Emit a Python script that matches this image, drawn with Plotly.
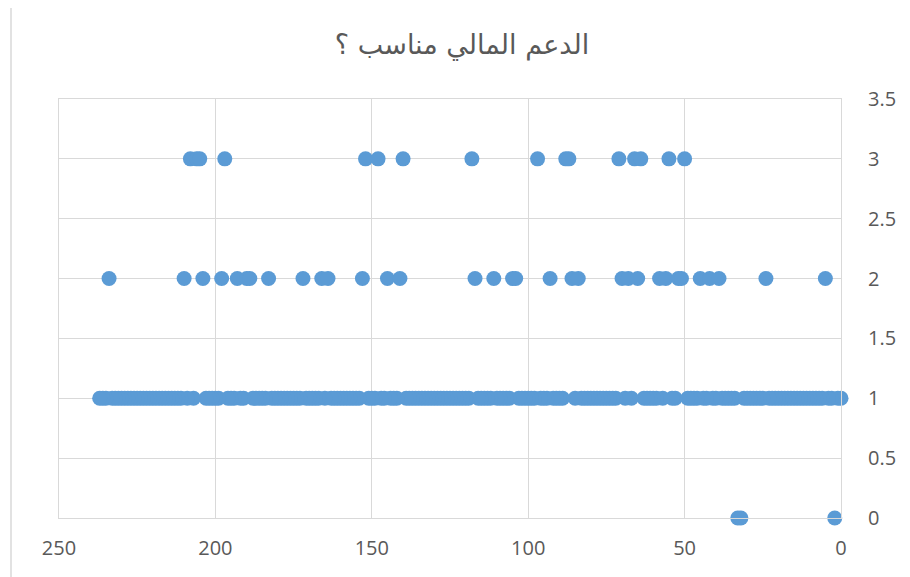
import plotly.graph_objects as go

title_text = "الدعم المالي مناسب ؟"

# x positions (respondent index), by answer level
x_level3 = [208, 206, 205, 197, 152, 148, 140, 118, 97, 88, 87, 71, 66, 64, 55, 50]
x_level2 = [234, 210, 204, 198, 193, 190, 189, 183, 172, 166, 164, 153, 145, 141,
            117, 111, 105, 104, 93, 86, 84, 70, 68, 65, 58, 56, 52, 51, 45, 42, 39, 24, 5]
x_level0 = [33, 32, 2]
x_level1 = [0, 1, 3, 4, 6, 7, 8, 9, 10, 11, 12, 13, 14, 15, 16, 17, 18, 19, 20, 21, 22, 23,
            25, 26, 27, 28, 29, 30, 31, 34, 35, 36, 37, 38, 40, 41, 43, 44, 46, 47, 48, 49,
            53, 54, 57, 59, 60, 61, 62, 63, 67, 69, 72, 73, 74, 75, 76, 77, 78, 79, 80, 81,
            82, 83, 85, 89, 90, 91, 92, 94, 95, 96, 98, 99, 100, 101, 102, 103, 106, 107,
            108, 109, 110, 112, 113, 114, 115, 116, 119, 120, 121, 122, 123, 124, 125, 126,
            127, 128, 129, 130, 131, 132, 133, 134, 135, 136, 137, 138, 139, 142, 143, 144,
            146, 147, 149, 150, 151, 154, 155, 156, 157, 158, 159, 160, 161, 162, 163, 165,
            167, 168, 169, 170, 171, 173, 174, 175, 176, 177, 178, 179, 180, 181, 182, 184,
            185, 186, 187, 188, 191, 192, 194, 195, 196, 199, 200, 201, 202, 203, 207, 209,
            211, 212, 213, 214, 215, 216, 217, 218, 219, 220, 221, 222, 223, 224, 225, 226,
            227, 228, 229, 230, 231, 232, 233, 235, 236, 237]

levels = [(x_level3, 3), (x_level2, 2), (x_level1, 1), (x_level0, 0)]
xs, ys = [], []
for xl, lv in levels:
    xs += xl
    ys += [lv] * len(xl)

x_ticks = [0, 50, 100, 150, 200, 250]
y_ticks = [0, 0.5, 1, 1.5, 2, 2.5, 3, 3.5]

fig = go.Figure(go.Scatter(
    x=xs, y=ys, mode="markers",
    marker=dict(size=15, color="#5b9bd5", line=dict(width=0)),
    cliponaxis=False,
    hoverinfo="x+y",
))

# page is drawn 8px in from the window corner, so offsets compensate
W, H = 910, 577
ml, mt = 51, 91
pw, ph = 782, 419
mr, mb = W - ml - pw, H - mt - ph

grid = "#d9d9d9"
fig.update_layout(
    width=W, height=H,
    margin=dict(l=ml, r=mr, t=mt, b=mb, autoexpand=False),
    paper_bgcolor="white", plot_bgcolor="white",
    showlegend=False,
    title=dict(text=title_text, x=454 / W, xanchor="center",
               y=1 - 37 / H, yanchor="middle", yref="container",
               font=dict(family="DejaVu Sans", size=27, color="#595959")),
    font=dict(family="Open Sans", size=20, color="#595959"),
    xaxis=dict(range=[250, 0], tickvals=x_ticks, ticktext=[str(v) for v in x_ticks],
               showgrid=True, gridcolor=grid, gridwidth=1,
               zeroline=False, showline=True, linecolor=grid, linewidth=1, mirror=True,
               ticks="", ticklabelstandoff=12),
    yaxis=dict(range=[0, 3.5], tickvals=y_ticks, ticktext=[str(v) for v in y_ticks],
               side="right", showgrid=True, gridcolor=grid, gridwidth=1,
               zeroline=False, showline=True, linecolor=grid, linewidth=1, mirror=True,
               ticks="", ticklabelstandoff=22),
    shapes=[dict(type="rect", xref="paper", yref="paper",
                 x0=-(ml - 3) / pw, x1=1 + (mr + 20) / pw,
                 y0=-(mb + 20) / ph, y1=1 + (mt + 20) / ph,
                 line=dict(color=grid, width=1.5), layer="below")],
)

fig.write_html("out.html")
